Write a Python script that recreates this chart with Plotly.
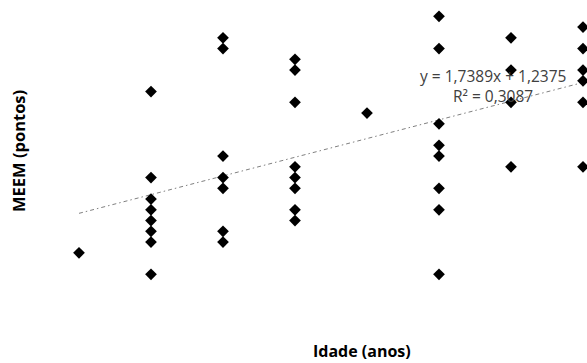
import plotly.graph_objects as go

# Data (age in years, MEEM score)
ages = [6,
        7, 7, 7, 7, 7, 7, 7, 7,
        8, 8, 8, 8, 8, 8, 8,
        9, 9, 9, 9, 9, 9, 9, 9,
        10,
        11, 11, 11, 11, 11, 11, 11, 11,
        12, 12, 12, 12,
        13, 13, 13, 13, 13, 13]
scores = [8,
          6, 9, 10, 11, 12, 13, 15, 23,
          28, 27, 17, 15, 14, 10, 9,
          26, 25, 22, 16, 15, 14, 12, 11,
          21,
          30, 27, 20, 18, 17, 14, 12, 6,
          28, 25, 22, 16,
          29, 27, 25, 24, 22, 16]

slope = 1.7389
intercept = 1.2375
trend_x = [6, 13.3]
trend_y = [slope * x + intercept for x in trend_x]

W, H = 587, 363
fig = go.Figure()
fig.add_trace(go.Scatter(
    x=trend_x, y=trend_y, mode="lines",
    line=dict(color="#808080", width=1, dash="4px,3px,1.5px,3px"),
    hoverinfo="skip", showlegend=False))
fig.add_trace(go.Scatter(
    x=ages, y=scores, mode="markers",
    marker=dict(symbol="diamond", size=9, color="black", line=dict(width=0)),
    showlegend=False))

x0 = 6 - 79 / 72.0
x1 = 6 + (W - 79) / 72.0
y1 = 6 + 274.3 / 10.75
y0 = 6 - (H - 274.3) / 10.75

common = dict(xref="paper", yref="paper", showarrow=False,
              xanchor="center", yanchor="middle")
fig.update_layout(
    width=W, height=H,
    margin=dict(l=0, r=0, t=0, b=0),
    paper_bgcolor="white", plot_bgcolor="white",
    xaxis=dict(range=[x0, x1], visible=False, fixedrange=True),
    yaxis=dict(range=[y0, y1], visible=False, fixedrange=True),
    font=dict(family="Open Sans, Noto Sans, sans-serif"),
    annotations=[
        dict(text="<b>MEEM (pontos)</b>", x=18 / W, y=1 - 151 / H,
             textangle=-90, font=dict(size=16.5, color="#000000"), **common),
        dict(text="<b>Idade (anos)</b>", x=362 / W, y=1 - 351 / H,
             font=dict(size=16, color="#000000"), **common),
        dict(text="y = 1,7389x + 1,2375", x=493 / W, y=1 - 76 / H,
             font=dict(size=15.5, color="#404040"), **common),
        dict(text="R² = 0,3087", x=493 / W, y=1 - 96 / H,
             font=dict(size=15.5, color="#404040"), **common),
    ],
)
fig.write_html("out.html", config={"displayModeBar": False},
               post_script="document.body.style.margin='0';")
